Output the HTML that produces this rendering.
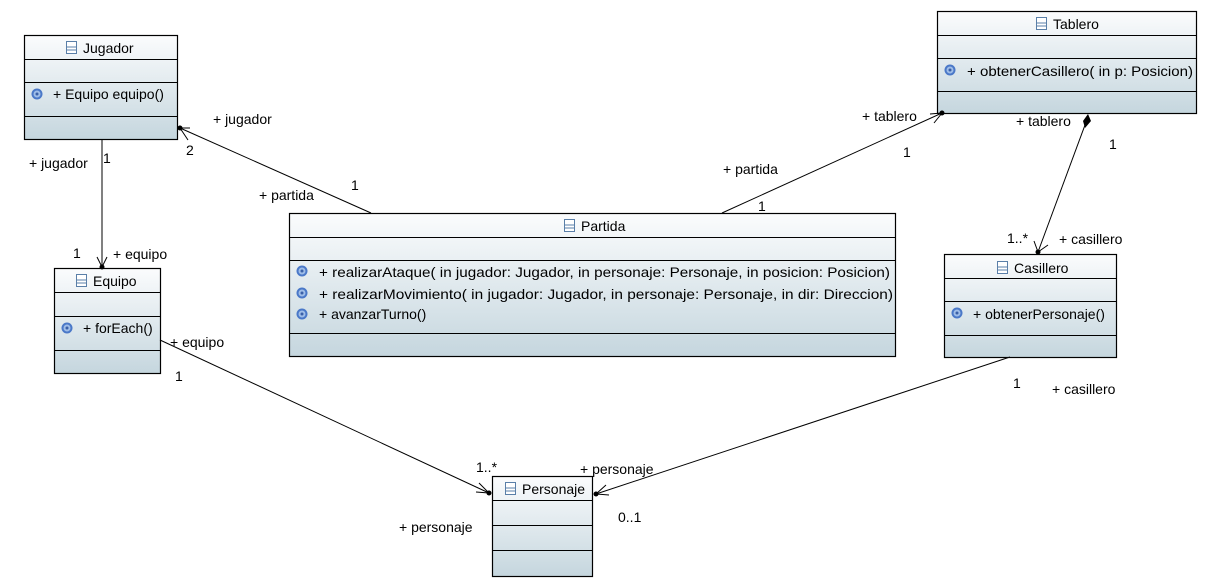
<!DOCTYPE html>
<html><head><meta charset="utf-8"><style>
html,body{margin:0;padding:0;background:#fff;}
svg{display:block;font-family:"Liberation Sans",sans-serif;font-size:14px;}
</style></head><body>
<svg width="1207" height="586" viewBox="0 0 1207 586" xmlns="http://www.w3.org/2000/svg">
<defs>
<linearGradient id="g" x1="0" y1="0" x2="0" y2="1">
<stop offset="0" stop-color="#fbfcfd"/><stop offset="1" stop-color="#c5d6de"/>
</linearGradient>
<g id="ci"><rect x="0.5" y="0.5" width="10" height="12" fill="#fff" stroke="#5a7fa8"/><line x1="0.5" y1="6" x2="10.5" y2="6" stroke="#5a7fa8"/><line x1="0.5" y1="9" x2="10.5" y2="9" stroke="#5a7fa8"/></g>
<g id="gear"><circle cx="6" cy="6" r="5.5" fill="#4a78c8"/><circle cx="6" cy="6" r="3.5" fill="#9fbde8"/><circle cx="6" cy="6" r="1.5" fill="#3a60a8"/></g>
</defs>
<g stroke="#000" stroke-width="1.2" fill="url(#g)">
<rect x="24.5" y="35.5" width="153" height="104"/>
<rect x="54.5" y="268.5" width="106" height="105"/>
<rect x="289.5" y="213.5" width="606" height="143"/>
<rect x="937.5" y="11.5" width="259" height="102"/>
<rect x="944.5" y="254.5" width="172" height="103"/>
<rect x="492.5" y="476.5" width="100" height="100"/>
</g>
<g stroke="#000" stroke-width="1">
<line x1="24" y1="59.5" x2="177" y2="59.5"/><line x1="24" y1="82.5" x2="177" y2="82.5"/><line x1="24" y1="116.5" x2="177" y2="116.5"/>
<line x1="54" y1="292.5" x2="160" y2="292.5"/><line x1="54" y1="316.5" x2="160" y2="316.5"/><line x1="54" y1="350.5" x2="160" y2="350.5"/>
<line x1="289" y1="237.5" x2="895" y2="237.5"/><line x1="289" y1="260.5" x2="895" y2="260.5"/><line x1="289" y1="333.5" x2="895" y2="333.5"/>
<line x1="937" y1="35.5" x2="1196" y2="35.5"/><line x1="937" y1="58.5" x2="1196" y2="58.5"/><line x1="937" y1="91.5" x2="1196" y2="91.5"/>
<line x1="944" y1="278.5" x2="1116" y2="278.5"/><line x1="944" y1="301.5" x2="1116" y2="301.5"/><line x1="944" y1="335.5" x2="1116" y2="335.5"/>
<line x1="492" y1="500.5" x2="592" y2="500.5"/><line x1="492" y1="525.5" x2="592" y2="525.5"/><line x1="492" y1="550.5" x2="592" y2="550.5"/>
</g>
<use href="#ci" x="66" y="41"/><text x="83" y="53">Jugador</text>
<use href="#gear" x="31" y="88"/><text x="53" y="99">+ Equipo equipo()</text>
<use href="#ci" x="76" y="274"/><text x="93" y="286">Equipo</text>
<use href="#gear" x="61" y="322"/><text x="83" y="333">+ forEach()</text>
<use href="#ci" x="564" y="219"/><text x="581" y="231">Partida</text>
<use href="#gear" x="296" y="265"/><text x="319" y="277" textLength="571" lengthAdjust="spacingAndGlyphs">+ realizarAtaque(  in jugador: Jugador,   in personaje: Personaje,   in posicion: Posicion)</text>
<use href="#gear" x="296" y="287"/><text x="319" y="299" textLength="574" lengthAdjust="spacingAndGlyphs">+ realizarMovimiento(  in jugador: Jugador,   in personaje: Personaje,   in dir: Direccion)</text>
<use href="#gear" x="296" y="308"/><text x="319" y="319">+ avanzarTurno()</text>
<use href="#ci" x="1036" y="17"/><text x="1053" y="29">Tablero</text>
<use href="#gear" x="944" y="64"/><text x="967" y="76" textLength="226" lengthAdjust="spacingAndGlyphs">+ obtenerCasillero(  in p: Posicion)</text>
<use href="#ci" x="997" y="261"/><text x="1014" y="273">Casillero</text>
<use href="#gear" x="951" y="307"/><text x="973" y="319">+ obtenerPersonaje()</text>
<use href="#ci" x="505" y="482"/><text x="522" y="494">Personaje</text>
<g stroke="#000" stroke-width="1" fill="none">
<line x1="371" y1="213" x2="180" y2="128"/>
<polyline points="190,128 180,128 188,140"/>
<line x1="722" y1="213" x2="942" y2="113"/>
<polyline points="930,114 942,113 934,123"/>
<line x1="102" y1="139" x2="102" y2="267"/>
<polyline points="97,257 102,267 107,257"/>
<line x1="1085" y1="125" x2="1038" y2="252"/>
<polyline points="1034,241 1038,252 1048,245"/>
<line x1="160" y1="340" x2="489" y2="493"/>
<polyline points="479,483 489,493 476,492"/>
<line x1="1010" y1="357" x2="596" y2="494"/>
<polyline points="606,485 596,494 609,495"/>
</g>
<g fill="#000">
<circle cx="180" cy="128" r="2.5"/><circle cx="942" cy="113" r="2.5"/><circle cx="102" cy="267" r="2.5"/>
<circle cx="1038" cy="252" r="2.5"/><circle cx="489" cy="493" r="2.5"/><circle cx="596" cy="494" r="2.5"/>
<polygon points="1088,114 1091,121 1085,128 1083,121"/>
</g>
<text x="213" y="124">+ jugador</text><text x="186" y="155">2</text>
<text x="29" y="168">+ jugador</text><text x="103" y="163">1</text>
<text x="259" y="200">+ partida</text><text x="351" y="190">1</text>
<text x="73" y="258">1</text><text x="113" y="259">+ equipo</text>
<text x="170" y="347">+ equipo</text><text x="175" y="381">1</text>
<text x="723" y="174">+ partida</text><text x="758" y="211">1</text>
<text x="862" y="121">+ tablero</text><text x="903" y="157">1</text>
<text x="1016" y="126">+ tablero</text><text x="1109" y="149">1</text>
<text x="1007" y="243">1..*</text><text x="1059" y="244">+ casillero</text>
<text x="1013" y="388">1</text><text x="1052" y="394">+ casillero</text>
<text x="476" y="472">1..*</text><text x="580" y="474">+ personaje</text>
<text x="399" y="532">+ personaje</text><text x="618" y="522">0..1</text>
</svg>
</body></html>
